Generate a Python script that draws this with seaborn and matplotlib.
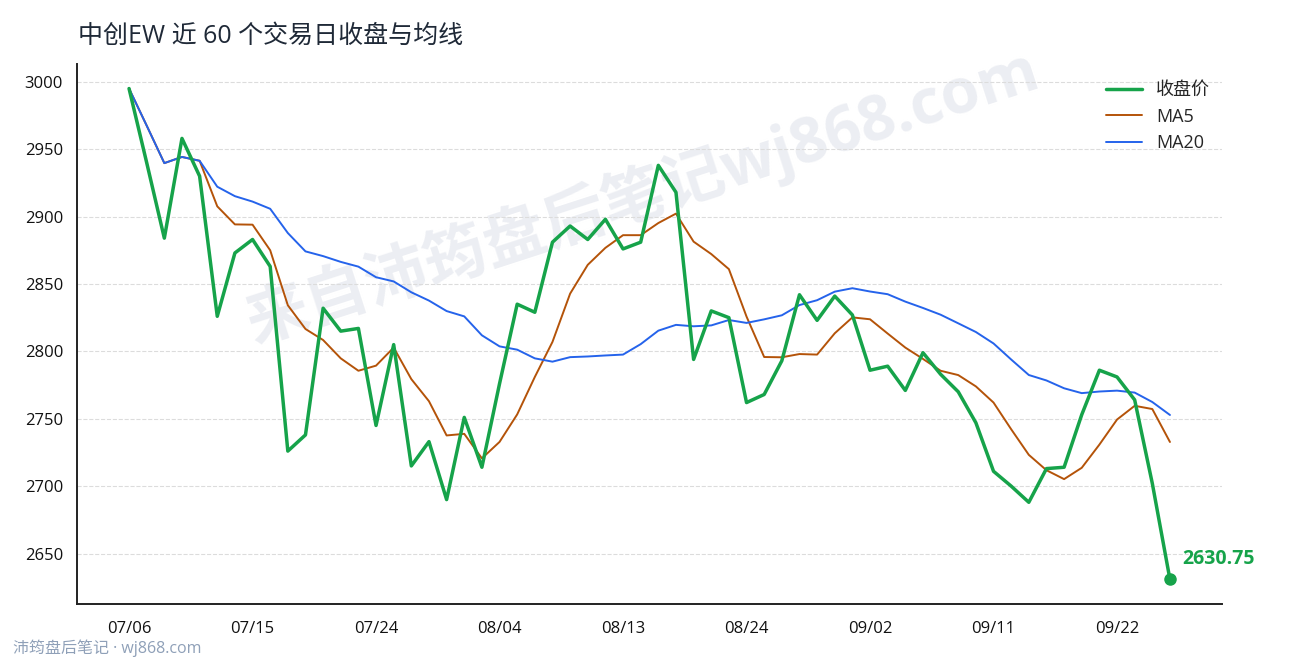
import numpy as np
import pandas as pd
import matplotlib
matplotlib.use('Agg')
import matplotlib.pyplot as plt
import seaborn as sns

# ========================
# DATA
# ========================
close = [2995, 2940, 2884, 2958, 2930, 2826, 2873, 2883, 2863, 2726,
         2738, 2832, 2815, 2817, 2745, 2805, 2715, 2733, 2690, 2751,
         2714, 2776, 2835, 2829, 2881, 2893, 2883, 2898, 2876, 2881,
         2938, 2918, 2794, 2830, 2825, 2762, 2768, 2793, 2842, 2823,
         2841, 2827, 2786, 2789, 2771, 2799, 2783, 2770, 2747, 2711,
         2700, 2688, 2713, 2714, 2753, 2786, 2781, 2764, 2702, 2630.75]
tick_labels = ['07/06', '07/15', '07/24', '08/04', '08/13',
               '08/24', '09/02', '09/11', '09/22']
tick_step = 7

title = '中创EW 近 60 个交易日收盘与均线'
watermark = '来自沛筠盘后笔记wj868.com'
footer = '沛筠盘后笔记 · wj868.com'

# colours
c_close = '#16a34a'
c_ma5 = '#b45309'
c_ma20 = '#2563eb'

df = pd.DataFrame({'idx': np.arange(len(close)), 'close': close})
df['ma5'] = df['close'].rolling(5, min_periods=1).mean()
df['ma20'] = df['close'].rolling(20, min_periods=1).mean()

sns.set_style('white')
plt.rcParams['font.family'] = ['Open Sans', 'Noto Sans CJK SC', 'DejaVu Sans']
plt.rcParams['axes.unicode_minus'] = False

fig = plt.figure(figsize=(12.9, 6.6), dpi=100)
ax = fig.add_axes([77 / 1290, 56 / 660, (1222 - 77) / 1290, (604 - 64) / 660])

# watermark behind everything
ax.text(0.494, 0.755, watermark, transform=ax.transAxes, rotation=18,
        ha='center', va='center', fontsize=45, fontweight='bold',
        color='#eceef3', zorder=0)

sns.lineplot(data=df, x='idx', y='close', ax=ax, color=c_close, lw=2.5,
             label='收盘价', zorder=4)
sns.lineplot(data=df, x='idx', y='ma5', ax=ax, color=c_ma5, lw=1.4,
             label='MA5', zorder=2)
sns.lineplot(data=df, x='idx', y='ma20', ax=ax, color=c_ma20, lw=1.4,
             label='MA20', zorder=3)

# last close marker + label
last_i = len(close) - 1
ax.plot([last_i], [close[-1]], 'o', color=c_close, ms=8, zorder=5)
ax.annotate(f'{close[-1]:.2f}', (last_i, close[-1]), xytext=(9, 15),
            textcoords='offset points', ha='left', va='center',
            fontsize=14, fontweight='bold', color=c_close)

# axes styling
ax.set_xticks(np.arange(0, len(close), tick_step))
ax.set_xticklabels(tick_labels)
ax.set_xlabel('')
ax.set_ylabel('')
ax.margins(x=0.05, y=0.05)
ax.grid(axis='y', linestyle='--', color='#dcdcdc', lw=0.8)
ax.set_axisbelow(True)
for s in ['top', 'right']:
    ax.spines[s].set_visible(False)
for s in ['left', 'bottom']:
    ax.spines[s].set_color('#222222')
    ax.spines[s].set_linewidth(1.4)
ax.tick_params(axis='both', which='major', direction='out', length=4,
               width=1.4, color='#222222', labelsize=12, pad=6,
               labelcolor='#111111')
ax.tick_params(axis='x', pad=8)

ax.legend(loc='upper right', bbox_to_anchor=(1.0, 0.99), frameon=False,
          fontsize=13, labelspacing=0.48, borderaxespad=0.25)

fig.text(78 / 1290, 1 - 36 / 660, title, ha='left', va='center',
         fontsize=18, color='#1f2937')
fig.text(13 / 1290, 1 - 648 / 660, footer, ha='left', va='center',
         fontsize=11.5, color='#8fa0b8')

fig.savefig('out.png', dpi=100)
